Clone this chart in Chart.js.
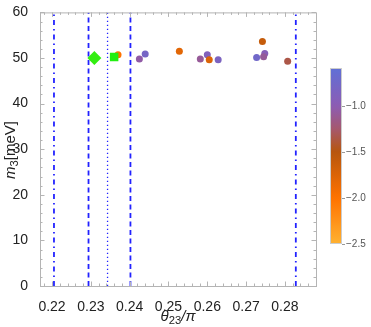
<!DOCTYPE html>
<html>
<head>
<meta charset="utf-8">
<script src="https://cdn.jsdelivr.net/npm/chart.js@4"></script>
<style>
  html, body { margin: 0; padding: 0; background: #fff; }
  #wrap { width: 371px; height: 327px; }
</style>
</head>
<body>
<div id="wrap"><canvas id="chart" width="371" height="327"></canvas></div>
<script>
// scan points: theta23/pi, m3 in meV, colour value
const theta = [0.2370, 0.2425, 0.2440, 0.2528, 0.2582, 0.2600, 0.2605, 0.2628, 0.2742, 0.2727, 0.2748, 0.2745, 0.2807];
const m3    = [50.7,   49.8,   50.9,   51.5,   49.8,   50.7,   49.6,   49.6,   53.6,   50.1,   51.0,   50.3,   49.3];
const zval  = [-2.0,  -1.05,  -0.80,  -1.80,  -1.10,  -0.90,  -1.75,  -0.85,  -1.60,  -0.75,  -0.95,  -1.10,  -1.35];

// best fit points (green)
const bestDiamond = [{x: 0.2309, y: 50.0}];
const bestSquare  = [{x: 0.2360, y: 50.2}];

// vertical limits
const dashDotX = [0.2205, 0.2828];
const dashedX  = [0.2294, 0.2402];
const dottedX  = [0.2343];

const xTicks = [0.22, 0.23, 0.24, 0.25, 0.26, 0.27, 0.28];
const yTicks = [0, 10, 20, 30, 40, 50, 60];
const barTicks = [-1.0, -1.5, -2.0, -2.5];
const zMin = -2.5, zMax = -0.59;

// colour map stops, value -> colour
const stops = [
  [-2.5, [255, 178, 50]],
  [-2.0, [255, 114, 0]],
  [-1.5, [183, 86, 14]],
  [-1.25, [165, 88, 110]],
  [-1.0, [140, 92, 180]],
  [-0.59, [96, 112, 214]]
];

function zColor(v) {
  if (v <= stops[0][0]) return rgb(stops[0][1]);
  for (let i = 1; i < stops.length; i++) {
    if (v <= stops[i][0]) {
      let a = stops[i - 1], b = stops[i];
      let t = (v - a[0]) / (b[0] - a[0]);
      return rgb(a[1].map((c, k) => c + (b[1][k] - c) * t));
    }
  }
  return rgb(stops[stops.length - 1][1]);
}
function rgb(c) {
  return 'rgb(' + c.map(Math.round).join(',') + ')';
}

const FONT = '"Liberation Sans", Arial, sans-serif';
const lineBlue = '#2222ff';

function vline(x, dash, width) {
  return {
    type: 'line',
    data: [{x: x, y: 0}, {x: x, y: 60}],
    borderColor: lineBlue,
    borderWidth: width,
    borderDash: dash,
    pointRadius: 0,
    order: 3
  };
}

let datasets = [];
dashDotX.forEach(x => datasets.push(vline(x, [5, 4, 1.5, 4], 1.8)));
dashedX.forEach(x => datasets.push(vline(x, [5, 3.5], 1.8)));
dottedX.forEach(x => datasets.push(vline(x, [1.2, 2.8], 1.3)));

datasets.push({
  type: 'scatter',
  data: theta.map((t, i) => ({x: t, y: m3[i]})),
  backgroundColor: zval.map(zColor),
  borderWidth: 0,
  pointRadius: 3.5,
  order: 2
});
datasets.push({
  type: 'scatter',
  data: bestSquare,
  pointStyle: 'rect',
  backgroundColor: '#22ee11',
  borderWidth: 0,
  pointRadius: 6,
  order: 1
});
datasets.push({
  type: 'scatter',
  data: bestDiamond,
  pointStyle: 'rectRot',
  backgroundColor: '#33ee11',
  borderWidth: 0,
  pointRadius: 7,
  order: 0
});

// draws text made of parts (italic / subscript), centred on the origin
function drawRich(ctx, parts, size) {
  ctx.textAlign = 'left';
  let w = 0;
  parts.forEach(p => {
    ctx.font = (p.italic ? 'italic ' : '') + (p.sub ? size * 0.75 : size) + 'px ' + FONT;
    p.w = ctx.measureText(p.t).width;
    w += p.w;
  });
  let x = -w / 2;
  parts.forEach(p => {
    ctx.font = (p.italic ? 'italic ' : '') + (p.sub ? size * 0.75 : size) + 'px ' + FONT;
    ctx.fillText(p.t, x, p.sub ? size * 0.22 : 0);
    x += p.w;
  });
}

const framePlugin = {
  id: 'frame',
  afterDatasetsDraw(chart) {
    const ctx = chart.ctx;
    const a = chart.chartArea;
    const xs = chart.scales.x, ys = chart.scales.y;
    ctx.save();
    ctx.setLineDash([]);
    ctx.strokeStyle = '#b4b4b4';
    ctx.lineWidth = 1;
    ctx.strokeRect(a.left + 0.5, a.top + 0.5, a.right - a.left, a.bottom - a.top);
    ctx.beginPath();
    // x ticks, major every 0.01, minor every 0.002
    for (let k = 0; k <= 40; k++) {
      let v = 0.216 + k * 0.002;
      if (v < xs.min || v > xs.max) continue;
      let px = Math.round(xs.getPixelForValue(v)) + 0.5;
      let major = Math.abs(v * 100 - Math.round(v * 100)) < 1e-6;
      let len = major ? 4.5 : 2.5;
      ctx.moveTo(px, a.bottom); ctx.lineTo(px, a.bottom - len);
      ctx.moveTo(px, a.top); ctx.lineTo(px, a.top + len);
    }
    for (let v = 0; v <= 60; v += 2) {
      let py = Math.round(ys.getPixelForValue(v)) + 0.5;
      let len = v % 10 === 0 ? 4.5 : 2.5;
      ctx.moveTo(a.left, py); ctx.lineTo(a.left + len, py);
      ctx.moveTo(a.right, py); ctx.lineTo(a.right - len, py);
    }
    ctx.stroke();

    // axis titles
    ctx.fillStyle = '#222';
    ctx.textBaseline = 'alphabetic';
    ctx.save();
    ctx.translate((a.left + a.right) / 2, 321);
    drawRich(ctx, [{t: 'θ', italic: true}, {t: '23', sub: true}, {t: '/π', italic: true}], 15);
    ctx.restore();
    ctx.save();
    ctx.translate(15, 150);
    ctx.rotate(-Math.PI / 2);
    drawRich(ctx, [{t: 'm', italic: true}, {t: '3', sub: true}, {t: '[meV]'}], 15);
    ctx.restore();

    // colour bar
    const bx = 330, bw = 12, bTop = 68, bBot = 244;
    const g = ctx.createLinearGradient(0, bBot, 0, bTop);
    for (let i = 0; i <= 40; i++) {
      let v = zMin + (zMax - zMin) * i / 40;
      g.addColorStop(i / 40, zColor(v));
    }
    ctx.fillStyle = g;
    ctx.fillRect(bx, bTop, bw, bBot - bTop);
    ctx.strokeStyle = '#cccccc';
    ctx.strokeRect(bx + 0.5, bTop + 0.5, bw - 1, bBot - bTop - 1);
    ctx.fillStyle = '#555';
    ctx.font = '10px ' + FONT;
    ctx.textBaseline = 'middle';
    ctx.textAlign = 'left';
    ctx.strokeStyle = '#999';
    barTicks.forEach(v => {
      let py = bBot - (v - zMin) / (zMax - zMin) * (bBot - bTop);
      ctx.beginPath();
      ctx.moveTo(bx + bw, Math.round(py) + 0.5);
      ctx.lineTo(bx + bw + 3, Math.round(py) + 0.5);
      ctx.stroke();
      ctx.fillText('\u2212' + Math.abs(v).toFixed(1), bx + bw + 4, py);
    });
    ctx.restore();
  }
};

new Chart(document.getElementById('chart'), {
  data: {datasets: datasets},
  options: {
    responsive: false,
    animation: false,
    events: [],
    layout: {padding: {top: 9, right: 55, left: 0, bottom: 0}},
    plugins: {legend: {display: false}, tooltip: {enabled: false}},
    scales: {
      x: {
        type: 'linear',
        min: 0.2169,
        max: 0.2880,
        grid: {display: false},
        border: {display: false},
        afterFit: s => { s.height = 41; },
        afterBuildTicks: s => { s.ticks = xTicks.map(v => ({value: v})); },
        ticks: {
          padding: 5,
          color: '#222',
          font: {family: FONT, size: 14},
          callback: v => v.toFixed(2)
        }
      },
      y: {
        type: 'linear',
        min: 0,
        max: 60,
        grid: {display: false},
        border: {display: false},
        afterFit: s => { s.width = 40; },
        afterBuildTicks: s => { s.ticks = yTicks.map(v => ({value: v})); },
        ticks: {
          padding: 4,
          color: '#222',
          font: {family: FONT, size: 14}
        }
      }
    }
  },
  plugins: [framePlugin]
});
</script>
</body>
</html>
